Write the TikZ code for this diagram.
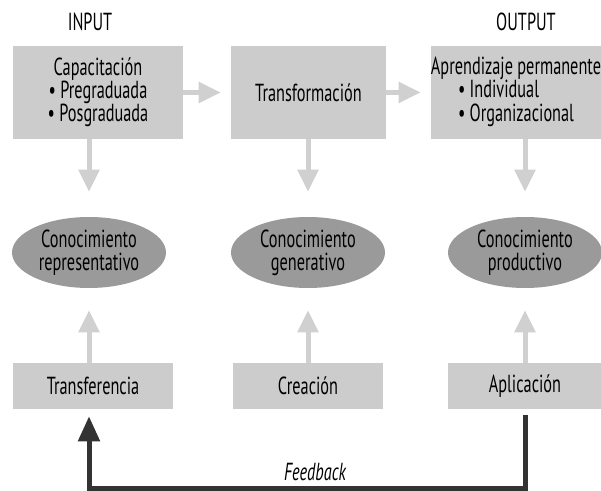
\documentclass[tikz,border=0pt]{standalone}
\usepackage{fontspec}
\setmainfont{PT Sans}[FakeStretch=0.66]
\usepackage{tikz}
\usetikzlibrary{shapes.geometric,arrows.meta}
\definecolor{boxgray}{HTML}{CCCCCC}
\definecolor{ovalgray}{HTML}{9A9A9A}
\definecolor{arrowgray}{HTML}{D0D0D0}
\definecolor{darkline}{HTML}{333333}
\tikzstyle{heading}=[inner sep=0]
\tikzstyle{block}=[rectangle,fill=boxgray,align=center,inner sep=0,minimum height=69.75pt]
\tikzstyle{smallblock}=[rectangle,fill=boxgray,inner sep=0,minimum height=34.5pt]
\tikzstyle{knowledge}=[ellipse,fill=ovalgray,align=center,inner sep=0,minimum width=115.5pt,minimum height=53.25pt]
\tikzstyle{flow}=[draw=arrowgray,line width=3.75pt,-{Triangle[width=15pt,length=16.5pt]}]
\tikzstyle{feedback}=[draw=darkline,line width=3.75pt,-{Triangle[width=15.75pt,length=18.75pt]}]

\begin{document}
\begin{tikzpicture}[x=0.75pt,y=-0.75pt,font=\fontsize{18.5}{17.25}\selectfont]
        \useasboundingbox (0,0) rectangle (601,491);
        \node[heading] (input) at (90,22) {INPUT};
        \node[heading] (output) at (526,22) {OUTPUT};
        \node[block,minimum width=127.5pt] (cap) at (98,92.5)
            {Capacitación\\• Pregraduada\\• Posgraduada};
        \node[block,minimum width=116.25pt] (trans) at (308.5,92.5) {Transformación};
        \node[block,minimum width=126pt] (aprend) at (516,92.5)
            {Aprendizaje permanente\\
             \begin{tabular}[t]{@{}l@{}}• Individual\\• Organizacional\end{tabular}};
        \node[knowledge] (rep) at (89,252.5) {Conocimiento\\representativo};
        \node[knowledge] (gen) at (308,252.5) {Conocimiento\\generativo};
        \node[knowledge] (prod) at (525,252.5) {Conocimiento\\productivo};
        \node[smallblock,minimum width=120pt] (transfer) at (93,386) {Transferencia};
        \node[smallblock,minimum width=112.5pt] (crea) at (308,386) {Creación};
        \node[smallblock,minimum width=115.5pt] (apl) at (525,386) {Aplicación};
        \coordinate (fb) at (308,488.5);
        \node[font=\fontsize{18.5}{17.25}\selectfont\itshape] (fbtext) at (315,472) {Feedback};

        \draw [flow,shorten >=7.5pt] (cap) -- (trans);
        \draw [flow,shorten >=7.5pt] (trans) -- (aprend);
        \draw [flow,shorten >=18.75pt] (cap.south -| rep) -- (rep.north);
        \draw [flow,shorten >=18.75pt] (trans.south -| gen) -- (gen.north);
        \draw [flow,shorten >=18.75pt] (aprend.south -| prod) -- (prod.north);
        \draw [flow,shorten >=16.5pt] (transfer.north -| rep) -- (rep.south);
        \draw [flow,shorten >=16.5pt] (crea.north -| gen) -- (gen.south);
        \draw [flow,shorten >=16.5pt] (apl.north -| prod) -- (prod.south);
        \draw [feedback,shorten <=4.5pt,shorten >=5.25pt] (apl.south) |- (fb) -| (transfer.south -| rep);
    \end{tikzpicture}
\end{document}
